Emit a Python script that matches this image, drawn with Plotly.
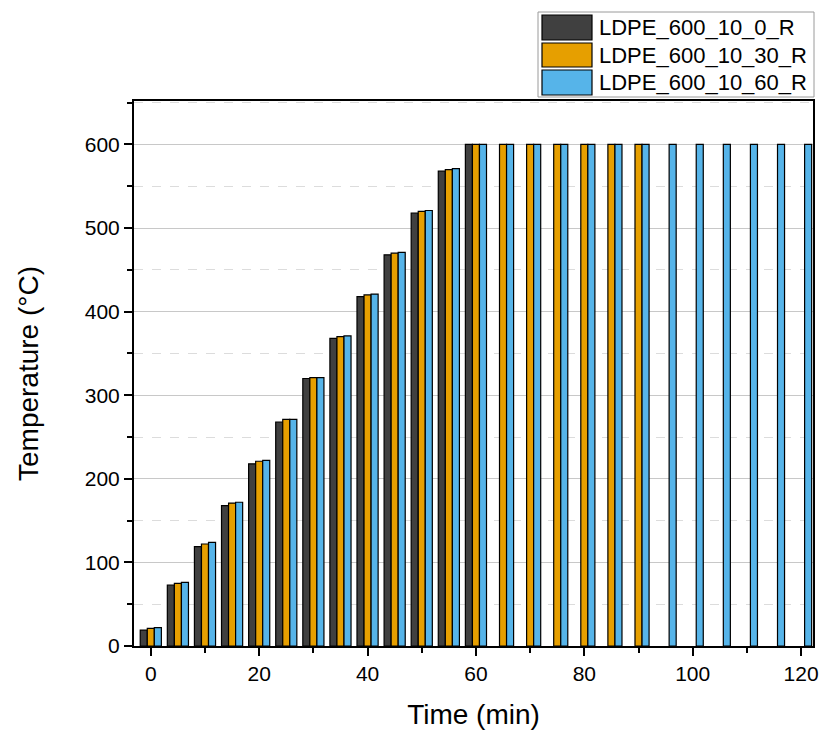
import plotly.graph_objects as go

times_0 = [0, 5, 10, 15, 20, 25, 30, 35, 40, 45, 50, 55, 60]
times_30 = [0, 5, 10, 15, 20, 25, 30, 35, 40, 45, 50, 55, 60, 65, 70, 75, 80, 85, 90]
times_60 = [0, 5, 10, 15, 20, 25, 30, 35, 40, 45, 50, 55, 60, 65, 70, 75, 80, 85, 90,
            95, 100, 105, 110, 115, 120]

temp_0 = [19, 73, 119, 168, 218, 268, 320, 368, 418, 468, 518, 568, 600]
temp_30 = [21, 75, 122, 171, 221, 271, 321, 370, 420, 470, 520, 570, 600,
           600, 600, 600, 600, 600, 600]
temp_60 = [22, 76, 124, 172, 222, 271, 321, 371, 421, 471, 521, 571, 600,
           600, 600, 600, 600, 600, 600, 600, 600, 600, 600, 600, 600]

names = ["LDPE_600_10_0_R", "LDPE_600_10_30_R", "LDPE_600_10_60_R"]
colors = ["#404040", "#E69F00", "#56B4E9"]

FONT = "Liberation Sans, Arial, sans-serif"

fig = go.Figure()
for t, v, n, c in zip([times_0, times_30, times_60], [temp_0, temp_30, temp_60], names, colors):
    fig.add_trace(go.Bar(x=t, y=v, name=n, marker=dict(color=c, line=dict(color="black", width=1.2)),
                         showlegend=False))

W, H = 822, 734
L, R, T, B = 134, 9, 101, 88
pw, ph = W - L - R, H - T - B


def px(xp):
    return (xp - L) / pw


def py(yp):
    return (H - B - yp) / ph


# custom legend (large swatches like the original)
shapes = [dict(type="rect", xref="paper", yref="paper", x0=px(538), x1=px(814), y0=py(97), y1=py(12),
               line=dict(color="#9a9a9a", width=1), fillcolor="white", layer="above")]
annotations = []
rows = [(15, 40), (43, 67), (70, 95)]
for (y0, y1), n, c in zip(rows, names, colors):
    shapes.append(dict(type="rect", xref="paper", yref="paper", x0=px(542), x1=px(592), y0=py(y1), y1=py(y0),
                       line=dict(color="black", width=1.2), fillcolor=c, layer="above"))
    annotations.append(dict(xref="paper", yref="paper", x=px(597), y=py((y0 + y1) / 2), text=n,
                            showarrow=False, xanchor="left", yanchor="middle",
                            font=dict(family=FONT, size=22, color="black")))

fig.update_layout(
    width=W, height=H,
    margin=dict(l=L, r=R, t=T, b=B, autoexpand=False),
    paper_bgcolor="white", plot_bgcolor="white",
    barmode="group", bargap=0.22, bargroupgap=0,
    font=dict(family=FONT, size=21, color="black"),
    shapes=shapes, annotations=annotations,
)
fig.update_xaxes(
    automargin=False,
    range=[-3.1, 122.2], tickmode="linear", tick0=0, dtick=20,
    ticks="outside", ticklen=8, tickwidth=2, tickcolor="black",
    minor=dict(dtick=10, tick0=0, ticks="outside", ticklen=5, tickwidth=2, tickcolor="black", showgrid=False),
    showline=True, linecolor="black", linewidth=2, mirror=True, showgrid=False, zeroline=False,
    tickfont=dict(size=21, family=FONT),
    title=dict(text="Time (min)", font=dict(size=28, family=FONT), standoff=20),
)
fig.update_yaxes(
    automargin=False,
    range=[0, 652], tickmode="linear", tick0=0, dtick=100,
    ticks="outside", ticklen=8, tickwidth=2, tickcolor="black",
    minor=dict(dtick=50, tick0=0, ticks="outside", ticklen=5, tickwidth=2, tickcolor="black",
               showgrid=True, gridcolor="#dcdcdc", griddash="dash", gridwidth=1),
    showline=True, linecolor="black", linewidth=2, mirror=True,
    showgrid=True, gridcolor="#c8c8c8", gridwidth=1.3, zeroline=False,
    tickfont=dict(size=21, family=FONT),
    title=dict(text="Temperature (°C)", font=dict(size=28, family=FONT), standoff=38),
)

fig.write_html("out.html", config={"displayModeBar": False},
               post_script="document.body.style.margin='0';document.body.style.overflow='hidden';")
